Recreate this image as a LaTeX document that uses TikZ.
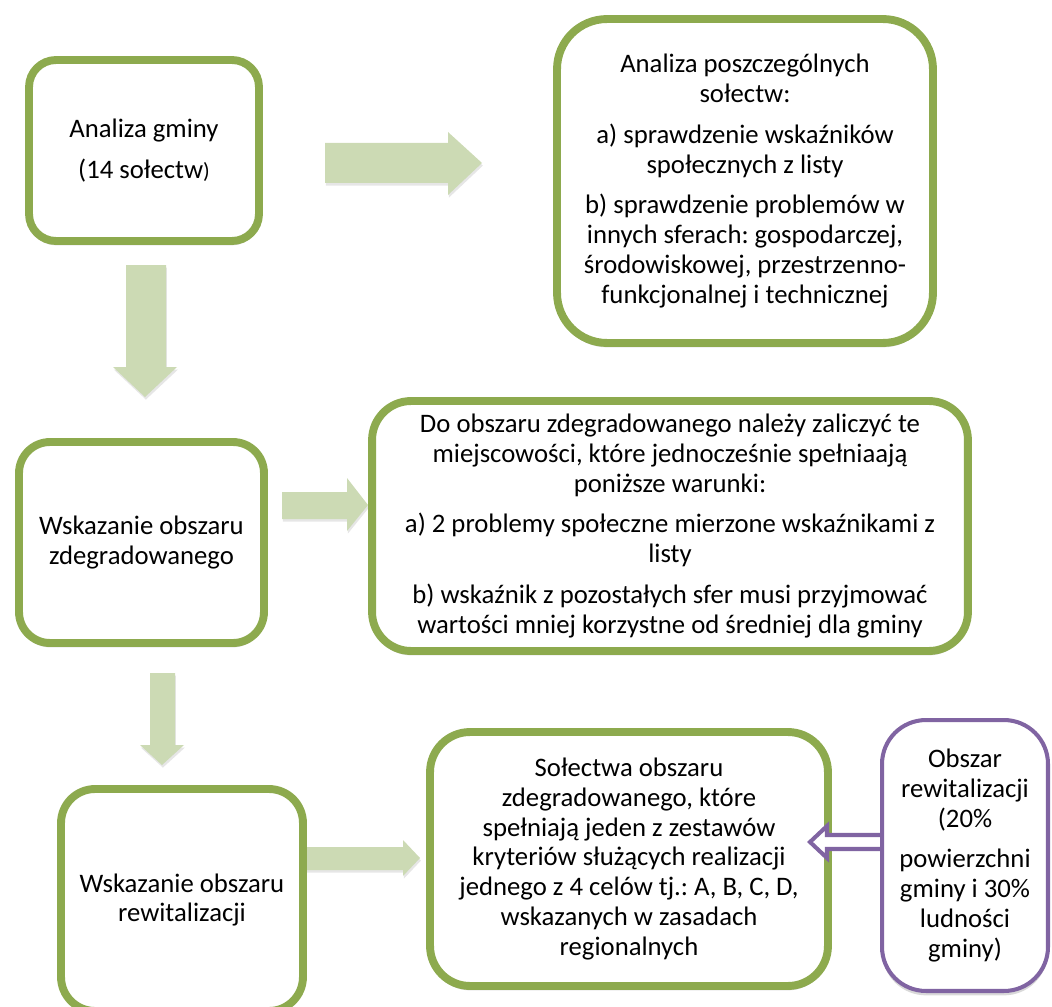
\documentclass[tikz,border=0pt]{standalone}
\usepackage{fontspec}
\setmainfont{Carlito}
\usetikzlibrary{shadows}
\frenchspacing

\definecolor{boxgreen}{RGB}{141,170,78}
\definecolor{arrowgreen}{RGB}{204,218,180}
\definecolor{boxpurple}{RGB}{128,100,162}

\tikzset{
  stepbox/.style={draw=boxgreen, line width=4.5pt, fill=white, align=center,
    inner sep=0pt, font=\fontsize{15.2}{17}\selectfont,
    drop shadow={shadow xshift=0pt, shadow yshift=-2.5pt, opacity=0.3}},
  sidebox/.style={stepbox, draw=boxpurple, line width=2.3pt, drop shadow={opacity=0}},
  bigarrow/.style={fill=arrowgreen,
    drop shadow={shadow xshift=0.5pt, shadow yshift=-1.5pt, opacity=0.2}},
}

\begin{document}
\begin{tikzpicture}[x=0.02cm, y=-0.02cm]
  \useasboundingbox (0,0) rectangle (1052,1007);
  \clip (0,0) rectangle (1052,1007);

  % block arrows
  \fill[bigarrow] (325,143) -- (448,143) -- (448,132) -- (482,163) -- (448,195)
    -- (448,183) -- (325,183) -- cycle;
  \fill[bigarrow] (126,265) -- (166,265) -- (166,367) -- (177,367) -- (145,397)
    -- (113,367) -- (126,367) -- cycle;
  \fill[bigarrow] (282,492) -- (347,492) -- (347,478) -- (368,505) -- (347,531)
    -- (347,519) -- (282,519) -- cycle;
  \fill[bigarrow] (150,673) -- (175,673) -- (175,745) -- (184,745) -- (162,765)
    -- (140,745) -- (150,745) -- cycle;
  \fill[bigarrow] (300,847) -- (403,847) -- (403,840) -- (420,858) -- (403,876)
    -- (403,870) -- (300,870) -- cycle;

  % boxes
  \node[stepbox, rounded corners=0.54cm, minimum width=4.6cm, minimum height=3.62cm]
    (gmina) at (144,150.5) {Analiza gminy\\[6.8pt] (14 sołectw{\fontsize{12.5}{14}\selectfont)}};
  \node[stepbox, rounded corners=1cm, minimum width=7.52cm, minimum height=6.48cm]
    (solectwa) at (745,181) {Analiza poszczególnych\\ sołectw:\\[6pt]
      a) sprawdzenie wskaźników\\ społecznych z listy\\[6pt]
      b) sprawdzenie problemów w\\ innych sferach: gospodarczej,\\
      środowiskowej, przestrzenno-\\ funkcjonalnej i technicznej};
  \node[stepbox, rounded corners=0.62cm, minimum width=4.9cm, minimum height=4.02cm]
    (zdegr) at (141.5,542.5) {Wskazanie obszaru\\ zdegradowanego};
  \node[stepbox, rounded corners=0.78cm, minimum width=11.92cm, minimum height=5cm]
    (warunki) at (670,526) {Do obszaru zdegradowanego należy zaliczyć te\\
      miejscowości, które jednocześnie spełniaają\\ poniższe warunki:\\[6pt]
      a) 2 problemy społeczne mierzone wskaźnikami z\\ listy\\[6pt]
      b) wskaźnik z pozostałych sfer musi przyjmować\\
      wartości mniej korzystne od średniej dla gminy};
  \node[stepbox, rounded corners=0.68cm, minimum width=4.84cm, minimum height=4.44cm]
    (rewit) at (182,900) {Wskazanie obszaru\\ rewitalizacji};
  \node[stepbox, rounded corners=0.8cm, minimum width=7.96cm, minimum height=5.08cm]
    (kryteria) at (629,859) {Sołectwa obszaru\\ zdegradowanego, które\\
      spełniają jeden z zestawów\\ kryteriów służących realizacji\\
      jednego z 4 celów tj.: A, B, C, D,\\ wskazanych w zasadach\\ regionalnych};

  % open arrow into the last box
  \draw[boxpurple, line width=2.3pt, fill=white, line join=miter]
    (885,835) -- (827,835) -- (827,826) -- (810,842) -- (827,858) -- (827,849)
    -- (885,849) -- cycle;

  \node[sidebox, rounded corners=0.88cm, minimum width=3.32cm, minimum height=5.42cm]
    (obszar) at (965,855.5) {Obszar\\ rewitalizacji\\ (20\%\\[6pt]
      powierzchni\\ gminy i 30\%\\ ludności\\ gminy)};
\end{tikzpicture}
\end{document}
